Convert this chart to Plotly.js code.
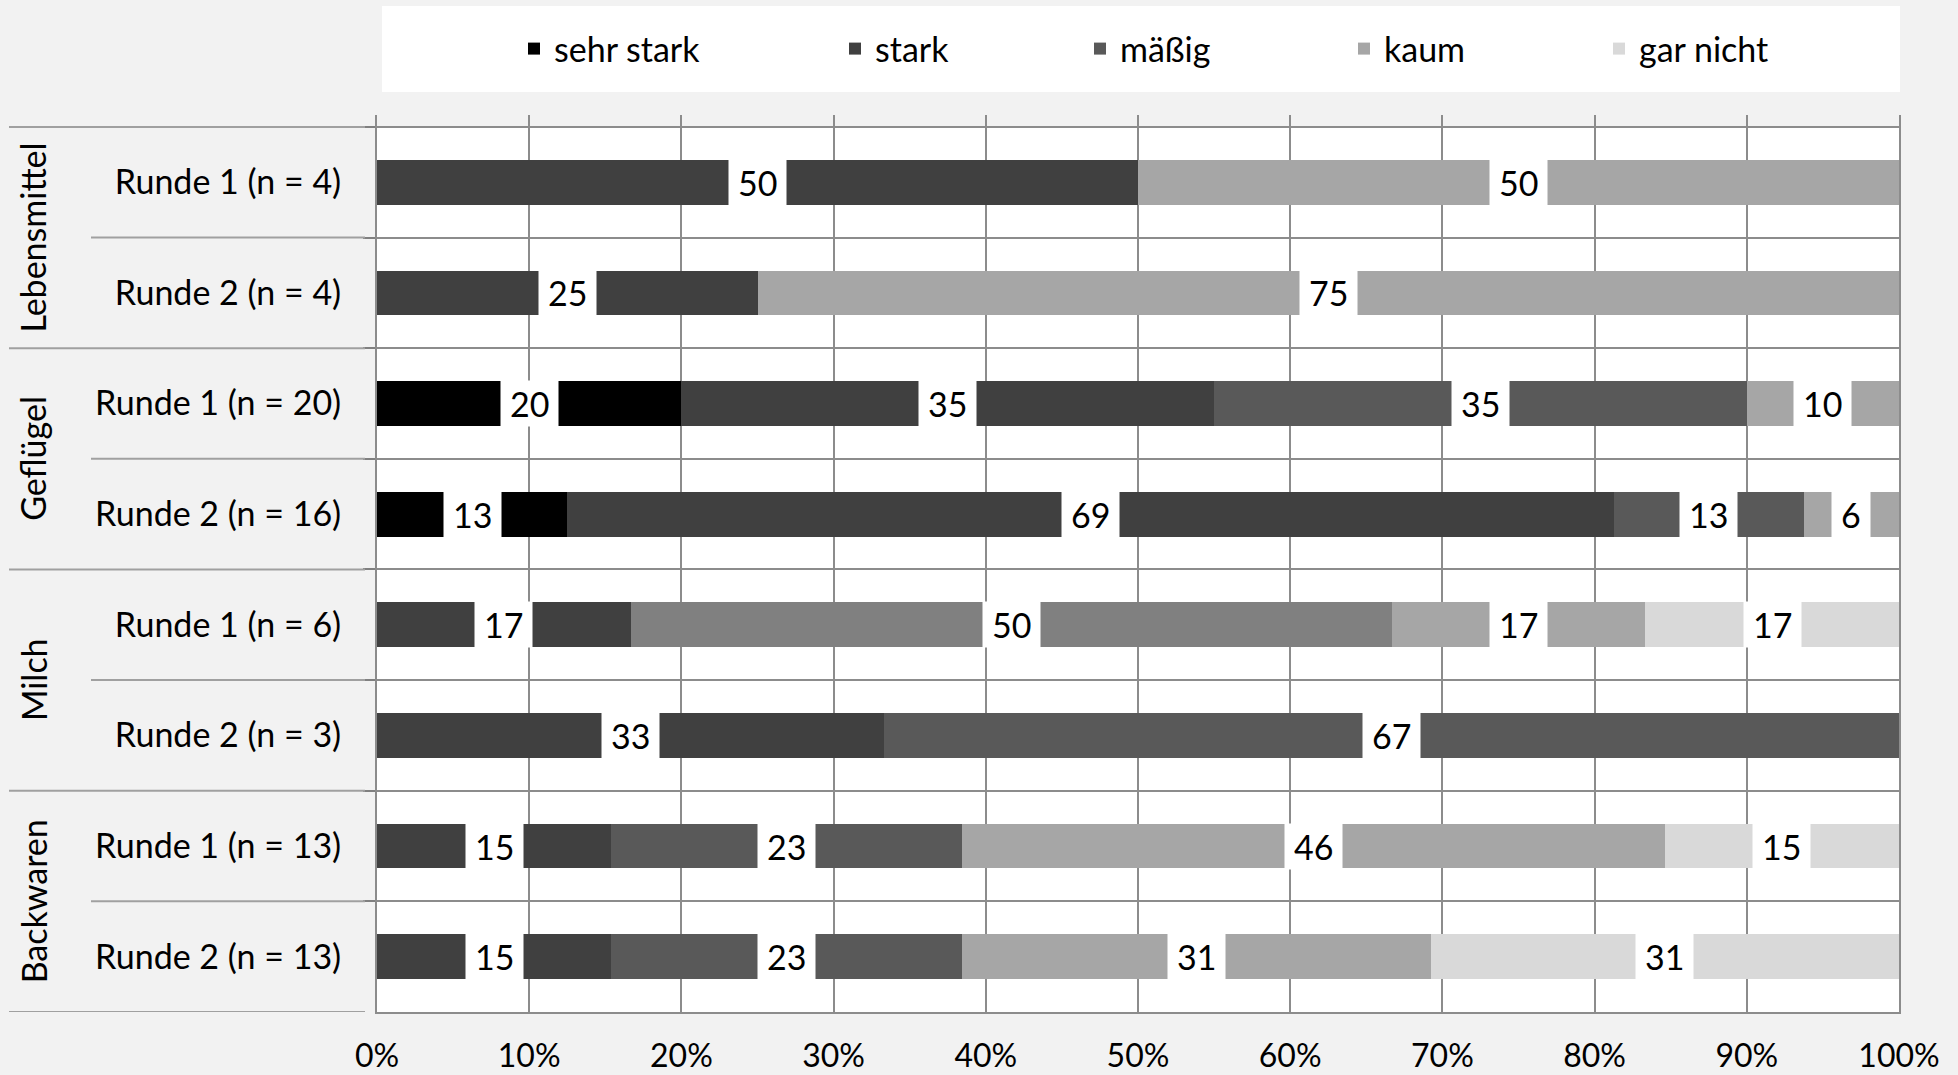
<!DOCTYPE html>
<html>
<head>
<meta charset="utf-8">
<script src="https://cdn.plot.ly/plotly-3.0.1.min.js"></script>
<style>
  html, body { margin: 0; padding: 0; background: #f2f2f2; }
  #chart { width: 1958px; height: 1075px; }
</style>
</head>
<body>
<div id="chart"></div>
<script>
// ---- Data (percent of respondents) ----
const categories = [
  "Runde 1 (n = 4)", "Runde 2 (n = 4)",
  "Runde 1 (n = 20)", "Runde 2 (n = 16)",
  "Runde 1 (n = 6)", "Runde 2 (n = 3)",
  "Runde 1 (n = 13)", "Runde 2 (n = 13)"
];
const groups = ["Lebensmittel", "Geflügel", "Milch", "Backwaren"];
const groupSizes = [2, 2, 2, 2];

const seriesNames = ["sehr stark", "stark", "mäßig", "kaum", "gar nicht"];
const sehrStark = [0, 0, 20, 12.5, 0, 0, 0, 0];
const stark     = [50, 25, 35, 68.75, 16.67, 33.33, 15.38, 15.38];
const maessig   = [0, 0, 35, 12.5, 50, 66.67, 23.08, 23.08];
const kaum      = [50, 75, 10, 6.25, 16.67, 0, 46.15, 30.77];
const garNicht  = [0, 0, 0, 0, 16.67, 0, 15.38, 30.77];

const xTickVals = [0, 10, 20, 30, 40, 50, 60, 70, 80, 90, 100];
const xTickText = ["0%", "10%", "20%", "30%", "40%", "50%", "60%", "70%", "80%", "90%", "100%"];

// ---- Styling ----
const FONT = "Lato, 'Open Sans', sans-serif";
const FS = 34;
const seriesColors = ["#000000", "#404040", "#595959", "#a6a6a6", "#d9d9d9"];
const allSeries = [sehrStark, stark, maessig, kaum, garNicht];
// Milch Runde 1 "mäßig" segment is drawn lighter in the original
const colorFor = (si, j) => (si === 2 && j === 4) ? "#808080" : seriesColors[si];

// legend text start positions (px) in the original
const legendTextPx = [556, 877, 1122, 1386, 1641];

const W = 1958, H = 1075;
const mL = 377, mR = 59, mT = 115, mB = 63;
const plotW = W - mL - mR, plotH = H - mT - mB;
const px2paperX = px => (px - mL) / plotW;
const px2paperY = py => (H - mB - py) / plotH;

const legendNames = ["legend", "legend2", "legend3", "legend4", "legend5"];

const traces = allSeries.map((vals, si) => ({
  type: "bar",
  orientation: "h",
  name: seriesNames[si],
  y: categories,
  x: vals,
  marker: { color: vals.map((_, j) => colorFor(si, j)), line: { width: 0 } },
  legend: legendNames[si],
  hoverinfo: "skip"
}));

// value labels in white boxes, centred on each segment
const annotations = [];
const cum = categories.map(() => 0);
allSeries.forEach((vals, si) => {
  vals.forEach((v, j) => {
    if (v > 0) {
      annotations.push({
        x: cum[j] + v / 2, y: j, xref: "x", yref: "y",
        text: String(Math.round(v)), showarrow: false,
        bgcolor: "#ffffff", borderpad: 9, height: 27,
        font: { family: FONT, size: FS, color: "#000" }
      });
    }
    cum[j] += v;
  });
});

let start = 0;
const shapes = [];
// white plot background only within the category rows
shapes.push({
  type: "rect", xref: "x", yref: "y", x0: 0, x1: 100, y0: -0.5, y1: 7.5,
  fillcolor: "#ffffff", line: { width: 0 }, layer: "below"
});
// legend box
shapes.push({
  type: "rect", xref: "paper", yref: "paper",
  x0: px2paperX(382), x1: px2paperX(1900), y0: px2paperY(92), y1: px2paperY(6),
  fillcolor: "#ffffff", line: { width: 0 }, layer: "below"
});
// group labels (rotated) and separators of the two-level category axis
groups.forEach((g, gi) => {
  const n = groupSizes[gi];
  annotations.push({
    x: px2paperX(33), xref: "paper", xanchor: "center",
    y: start + (n - 1) / 2, yref: "y", yanchor: "middle",
    text: g, textangle: -90, showarrow: false,
    font: { family: FONT, size: FS, color: "#000" }
  });
  shapes.push({
    type: "line", xref: "paper", yref: "y",
    x0: px2paperX(9), x1: px2paperX(365), y0: start - 0.5, y1: start - 0.5,
    line: { color: "#a0a0a0", width: 2 }
  });
  for (let k = 1; k < n; k++) {
    shapes.push({
      type: "line", xref: "paper", yref: "y",
      x0: px2paperX(91), x1: px2paperX(365), y0: start + k - 0.5, y1: start + k - 0.5,
      line: { color: "#a0a0a0", width: 2 }
    });
  }
  start += n;
});
shapes.push({
  type: "line", xref: "paper", yref: "y",
  x0: px2paperX(9), x1: px2paperX(365), y0: start - 0.5, y1: start - 0.5,
  line: { color: "#a0a0a0", width: 2 }
});

const legends = {};
legendNames.forEach((ln, i) => {
  legends[ln] = {
    x: px2paperX(legendTextPx[i] - 42), xanchor: "left",
    y: px2paperY(49), yanchor: "middle",
    orientation: "h",
    bgcolor: "rgba(0,0,0,0)",
    font: { family: FONT, size: FS, color: "#000" },
    itemclick: false, itemdoubleclick: false
  };
});

const layout = Object.assign({
  width: W, height: H,
  margin: { l: mL, r: mR, t: mT, b: mB, pad: 0 },
  paper_bgcolor: "#f2f2f2",
  plot_bgcolor: "#f2f2f2",
  barmode: "stack",
  bargap: 0.596,
  font: { family: FONT, size: FS, color: "#000" },
  showlegend: true,
  xaxis: {
    range: [0, 100],
    tickvals: xTickVals, ticktext: xTickText,
    showgrid: true, gridcolor: "#8c8c8c", gridwidth: 2,
    showline: true, linecolor: "#8c8c8c", linewidth: 2,
    zeroline: false, ticks: "",
    ticklabelstandoff: 15,
    tickfont: { family: FONT, size: 32, color: "#000" },
    fixedrange: true
  },
  yaxis: {
    type: "category",
    categoryorder: "array", categoryarray: categories,
    range: [7.5, -0.608],
    tickson: "boundaries",
    ticks: "outside", ticklen: 12, tickcolor: "#808080", tickwidth: 2,
    showgrid: true, gridcolor: "#8c8c8c", gridwidth: 2,
    showline: true, mirror: true, linecolor: "#8c8c8c", linewidth: 2,
    zeroline: false,
    ticklabelstandoff: 27,
    tickfont: { family: FONT, size: FS, color: "#000" },
    fixedrange: true
  },
  shapes: shapes,
  annotations: annotations
}, legends);

Plotly.newPlot("chart", traces, layout, { displayModeBar: false, staticPlot: true });
</script>
</body>
</html>
